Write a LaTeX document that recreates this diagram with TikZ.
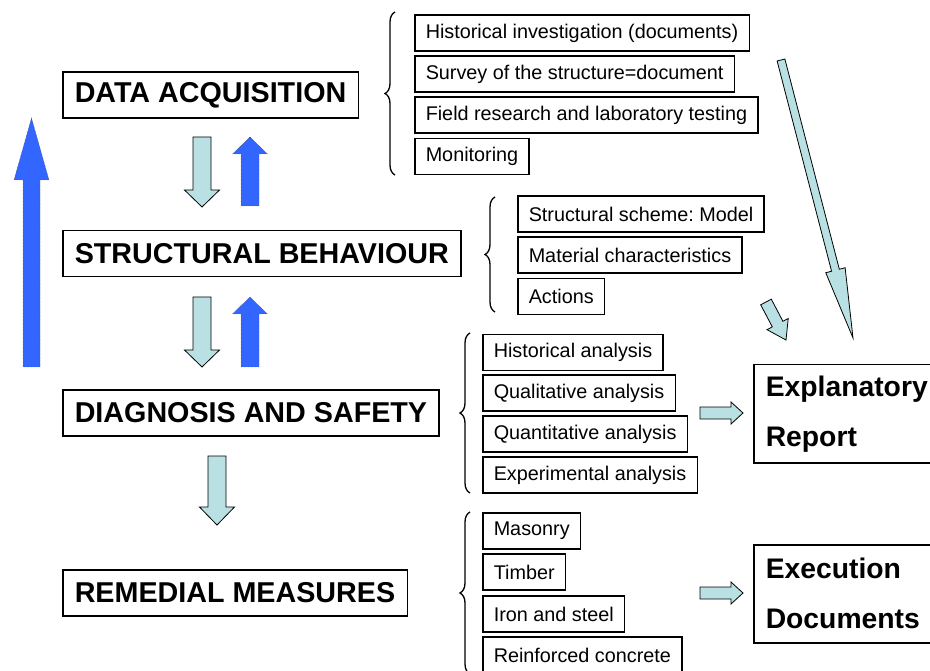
\documentclass[tikz,border=0pt]{standalone}
\usepackage{fontspec}
\setmainfont{Liberation Sans}
\usetikzlibrary{calc,decorations.pathreplacing}
\definecolor{paleblue}{RGB}{185,224,227}
\definecolor{brightblue}{RGB}{51,102,255}
\frenchspacing

% block arrow: style, from, to, half shaft, half head, head length
\newcommand{\fatarrow}[6]{%
  \coordinate (fah) at ($(#3)!#6!(#2)$);
  \draw[#1] ($(#2)!#4!90:(#3)$) -- ($(fah)!#4!90:(#3)$) -- ($(fah)!#5!90:(#3)$) -- (#3)
    -- ($(fah)!#5!-90:(#3)$) -- ($(fah)!#4!-90:(#3)$) -- ($(#2)!#4!-90:(#3)$) -- cycle;
}

\begin{document}
\begin{tikzpicture}[x=1pt, y=-1pt,
    mainbox/.style={draw=black, line width=1.5pt, anchor=west, inner xsep=12pt, minimum height=46pt,
      font=\fontsize{28.7}{34}\selectfont\bfseries},
    itembox/.style={draw=black, line width=1.5pt, anchor=west, inner xsep=11pt, minimum height=36pt,
      font=\fontsize{19.8}{24}\selectfont},
    reportbox/.style={draw=black, line width=1.5pt, anchor=north west, inner xsep=12pt, minimum height=98pt,
      text width=200pt, align=left, font=\fontsize{28.3}{50}\selectfont\bfseries},
    pale/.style={fill=paleblue, draw=black, line width=0.8pt},
    blue/.style={fill=brightblue, draw=black!80, line width=0.4pt, densely dotted},
    curly/.style={decorate, decoration={brace, amplitude=10pt}, line width=1.3pt}]
    \useasboundingbox (0,0) rectangle (930,671);
    \clip (0,0) rectangle (930,671);

    \node[mainbox] (acq) at (62,95) {DATA ACQUISITION};
    \node[mainbox] (beh) at (62,253.5) {STRUCTURAL BEHAVIOUR};
    \node[mainbox] (diag) at (62,413) {DIAGNOSIS AND SAFETY};
    \node[mainbox] (rem) at (62,593) {REMEDIAL MEASURES};

    \node[itembox] (hist) at (414,33) {Historical investigation (documents)};
    \node[itembox] (surv) at (414,74) {Survey of the structure=document};
    \node[itembox] (field) at (414,115) {Field research and laboratory testing};
    \node[itembox] (mon) at (414,156.5) {Monitoring};

    \node[itembox] (scheme) at (517,214) {Structural scheme: Model};
    \node[itembox] (mat) at (517,255) {Material characteristics};
    \node[itembox] (act) at (517,296.5) {Actions};

    \node[itembox] (histan) at (482,352.5) {Historical analysis};
    \node[itembox] (qual) at (482,393) {Qualitative analysis};
    \node[itembox] (quant) at (482,434) {Quantitative analysis};
    \node[itembox] (exp) at (482,475) {Experimental analysis};

    \node[itembox] (mas) at (482,531) {Masonry};
    \node[itembox] (tim) at (482,572) {Timber};
    \node[itembox] (iron) at (482,614) {Iron and steel};
    \node[itembox] (rc) at (482,655) {Reinforced concrete};

    \node[reportbox] (rep) at (753,364) {Explanatory\\Report};
    \node[reportbox] (exe) at (753,544) {Execution\\Documents};

    \draw[curly] (395,175) -- (395,12);
    \draw[curly] (495,312) -- (495,197);
    \draw[curly] (470,493) -- (470,333);
    \draw[curly] (470,674) -- (470,512);

    \coordinate (d1a) at (202,137);
    \coordinate (d1b) at (202,207);
    \coordinate (u1a) at (250,206);
    \coordinate (u1b) at (250,137);
    \coordinate (d2a) at (202,297);
    \coordinate (d2b) at (202,367);
    \coordinate (u2a) at (250,367);
    \coordinate (u2b) at (250,297);
    \coordinate (d3a) at (217,456);
    \coordinate (d3b) at (217,525);
    \coordinate (bigA) at (31.5,367);
    \coordinate (bigB) at (31.5,118);
    \coordinate (longA) at (781,60);
    \coordinate (longB) at (853,338);
    \coordinate (shortA) at (766,302);
    \coordinate (shortB) at (786,340);
    \coordinate (r1a) at (700,413);
    \coordinate (r1b) at (743,413);
    \coordinate (r2a) at (700,593);
    \coordinate (r2b) at (743,593);

    \fatarrow{pale}{d1a}{d1b}{9pt}{17.5pt}{17pt}
    \fatarrow{blue}{u1a}{u1b}{9pt}{17.5pt}{17pt}
    \fatarrow{pale}{d2a}{d2b}{9pt}{17.5pt}{17pt}
    \fatarrow{blue}{u2a}{u2b}{9pt}{17.5pt}{17pt}
    \fatarrow{pale}{d3a}{d3b}{9pt}{17.5pt}{18pt}
    \fatarrow{blue}{bigA}{bigB}{8.5pt}{17.5pt}{62pt}
    \fatarrow{pale}{longA}{longB}{4pt}{10pt}{70pt}
    \fatarrow{pale}{shortA}{shortB}{6pt}{12pt}{18pt}
    \fatarrow{pale}{r1a}{r1b}{6pt}{11pt}{12pt}
    \fatarrow{pale}{r2a}{r2b}{6pt}{11pt}{12pt}
\end{tikzpicture}
\end{document}
